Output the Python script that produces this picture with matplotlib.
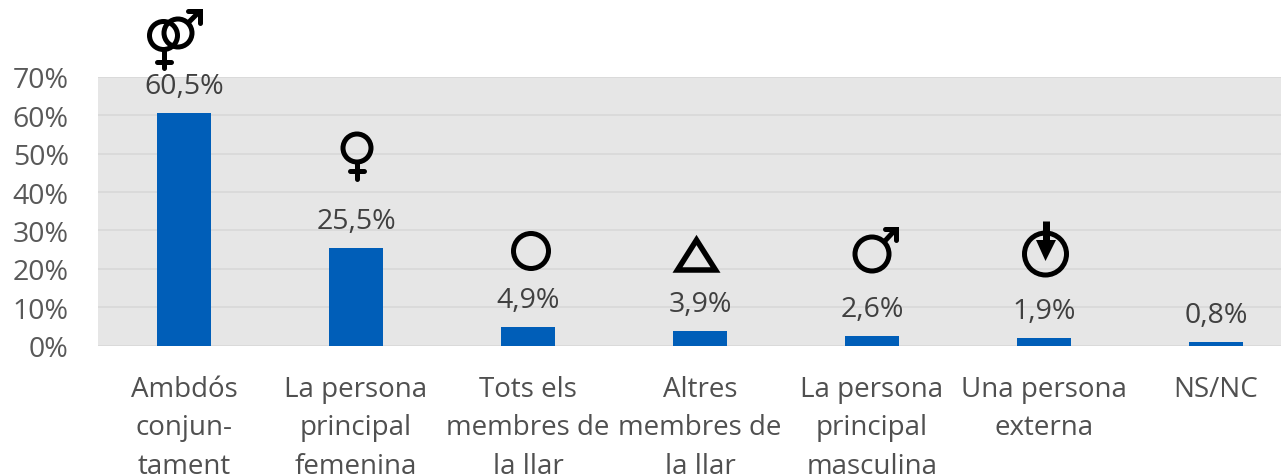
import matplotlib
matplotlib.use('Agg')
import matplotlib.pyplot as plt
import matplotlib.patches as mpatches

plt.rcParams['font.family'] = ['Open Sans', 'DejaVu Sans']

categories = ['Ambdós\nconjun-\ntament', 'La persona\nprincipal\nfemenina',
              'Tots els\nmembres de\nla llar', 'Altres\nmembres de\nla llar',
              'La persona\nprincipal\nmasculina', 'Una persona\nexterna', 'NS/NC']
values = [60.5, 25.5, 4.9, 3.9, 2.6, 1.9, 0.8]
value_labels = ['60,5%', '25,5%', '4,9%', '3,9%', '2,6%', '1,9%', '0,8%']
y_ticks = [0, 10, 20, 30, 40, 50, 60, 70]
y_tick_labels = ['0%', '10%', '20%', '30%', '40%', '50%', '60%', '70%']

W, H = 1281, 477
fig = plt.figure(figsize=(W / 100, H / 100), dpi=100)

# eixos en pixels de la imatge
ax = fig.add_axes([98 / W, 1 - 346.5 / H, (W - 98) / W, 268.5 / H])
ax.set_facecolor('#E6E6E6')
ax.set_xlim(-0.5, 6.378)
ax.set_ylim(0, 70)
ax.yaxis.grid(True, color='#DADADA', lw=1.4, zorder=1)
ax.set_axisbelow(True)
for s in ax.spines.values():
    s.set_visible(False)

x = range(len(values))
ax.bar(x, values, width=54 / 172, color='#005EB8', zorder=3)
for i, v in enumerate(values):
    ax.annotate(value_labels[i], (i, v), xytext=(0, 19.4), textcoords='offset points',
                ha='center', va='center', fontsize=20.5, color='#404040', zorder=5)

ax.set_yticks(y_ticks)
ax.set_yticklabels(y_tick_labels, fontsize=20.5, color='#595959')
ax.tick_params(axis='y', length=0, pad=21)
ax.set_xticks(list(x))
ax.set_xticklabels(categories, fontsize=20, color='#505050', linespacing=1.48, va='top')
ax.tick_params(axis='x', length=0, pad=21.5)

# simbols dibuixats a sobre, en coordenades de pixel
ov = fig.add_axes([0, 0, 1, 1])
ov.set_xlim(0, W)
ov.set_ylim(H, 0)
ov.axis('off')
ov.patch.set_alpha(0)
black = '#000000'


def ring(cx, cy, r, lw=5):
    ov.add_patch(mpatches.Circle((cx, cy), r, fill=False, ec=black, lw=lw * 0.72))


def stroke(xs, ys, lw=5, cap='round', join='miter'):
    ov.plot(xs, ys, color=black, lw=lw * 0.72, solid_capstyle=cap, solid_joinstyle=join)


def female(cx, cy, r, stem, cross_y, half):
    ring(cx, cy, r)
    stroke([cx, cx], [cy + r, cy + r + stem])
    stroke([cx - half, cx + half], [cross_y, cross_y])


def male(cx, cy, r, tip_x, tip_y, head):
    ring(cx, cy, r)
    stroke([cx + r * 0.7, tip_x], [cy - r * 0.7, tip_y], cap='butt')
    stroke([tip_x - head, tip_x, tip_x], [tip_y, tip_y, tip_y + head], join='miter')


# tots dos
female(163.5, 36.5, 14, 18, 63, 7)
male(178, 34, 14, 200, 12, 12)
# dona
female(357, 149, 14, 17, 172, 7)
# cercle
ring(531, 252, 17.5)
# triangle
ov.add_patch(mpatches.Polygon([(696.5, 241), (677.5, 271), (715.5, 271)], closed=True,
                              fill=False, ec=black, lw=5.5 * 0.72, joinstyle='miter'))
# home
male(872, 255, 17, 896, 230, 11)
# persona externa
ring(1045.5, 255, 21)
stroke([1046, 1046], [222, 243], lw=7, cap='butt')
ov.add_patch(mpatches.Polygon([(1036, 241), (1056, 241), (1045.5, 262)], closed=True,
                              fc=black, ec='none'))

fig.savefig('out.png', dpi=100)
